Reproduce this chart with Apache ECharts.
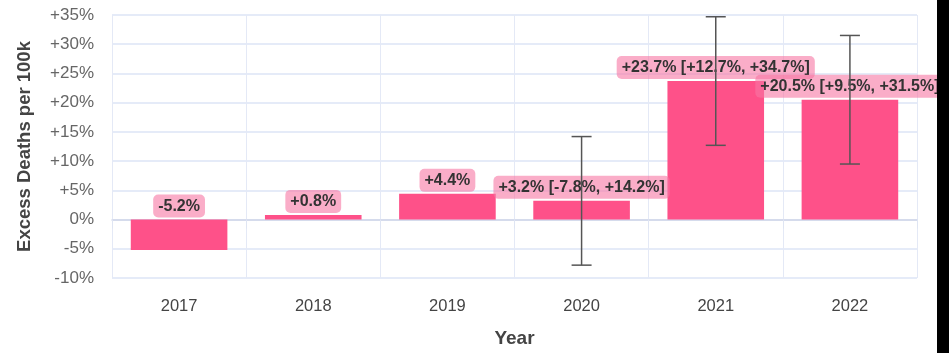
<!DOCTYPE html>
<html>
<head>
<meta charset="utf-8">
<script src="https://cdn.jsdelivr.net/npm/echarts@6/dist/echarts.min.js"></script>
<style>
  html, body { margin: 0; padding: 0; background: #000; }
  #chart { width: 937px; height: 353px; background: #fff; }
</style>
</head>
<body>
<div id="chart"></div>
<script>
// Données
const years = ['2017', '2018', '2019', '2020', '2021', '2022'];
const excess = [-5.2, 0.8, 4.4, 3.2, 23.7, 20.5];
const ciLow = [null, null, null, -7.8, 12.7, 9.5];
const ciHigh = [null, null, null, 14.2, 34.7, 31.5];
const yTicks = [-10, 35, 5]; // min, max, pas

const FONT = '"Liberation Sans", Arial, sans-serif';

function fmt(v) {
    return (v > 0 ? '+' : '') + v.toFixed(1) + '%';
}

// Barres d'erreur uniquement pour les années avec intervalle
const errorData = [];
years.forEach(function(y, i) {
    if (ciLow[i] !== null) errorData.push([i, ciLow[i], ciHigh[i]]);
});

const chart = echarts.init(document.getElementById('chart'), null, { renderer: 'canvas' });

const option = {
    animation: false,
    textStyle: { fontFamily: FONT },
    grid: { left: 112, right: 20, top: 15, bottom: 70 },
    xAxis: {
        type: 'category',
        data: years,
        name: 'Year',
        nameLocation: 'middle',
        nameGap: 51,
        nameTextStyle: { fontSize: 19, fontWeight: 'bold', color: '#444', fontFamily: FONT },
        axisLine: { lineStyle: { color: '#cfd6e8', width: 1.5 } },
        axisTick: { show: true, length: 9, lineStyle: { color: '#dfe5f3' } },
        splitLine: { show: true, lineStyle: { color: '#e4e9f6', width: 1 } },
        axisLabel: { fontSize: 16.5, color: '#444', margin: 20, fontFamily: FONT }
    },
    yAxis: {
        type: 'value',
        min: yTicks[0],
        max: yTicks[1],
        interval: yTicks[2],
        name: 'Excess Deaths per 100k',
        nameLocation: 'middle',
        nameGap: 78,
        nameTextStyle: { fontSize: 18.5, fontWeight: 'bold', color: '#444', fontFamily: FONT },
        axisLine: { show: false },
        axisTick: { show: false },
        splitLine: { lineStyle: { color: '#dde4f6', width: 1.5 } },
        axisLabel: {
            fontSize: 17,
            color: '#666',
            margin: 18,
            fontFamily: FONT,
            formatter: function(v) { return (v > 0 ? '+' : '') + v + '%'; }
        }
    },
    series: [
        {
            type: 'bar',
            data: excess,
            barWidth: '72%',
            itemStyle: { color: '#fe5189' },
            label: {
                show: true,
                position: 'top',
                distance: 2,
                fontSize: 16,
                fontWeight: 'bold',
                color: '#333',
                fontFamily: FONT,
                backgroundColor: 'rgba(246, 118, 164, 0.6)',
                borderRadius: 5,
                padding: [4, 5, 3, 5],
                formatter: function(p) {
                    const i = p.dataIndex;
                    let s = fmt(excess[i]);
                    if (ciLow[i] !== null) s += ' [' + fmt(ciLow[i]) + ', ' + fmt(ciHigh[i]) + ']';
                    return s;
                }
            }
        },
        {
            type: 'custom',
            z: 10,
            data: errorData,
            encode: { x: 0, y: [1, 2] },
            renderItem: function(params, api) {
                const x = api.value(0);
                const lo = api.coord([x, api.value(1)]);
                const hi = api.coord([x, api.value(2)]);
                const hw = 10;
                const style = { stroke: '#555', lineWidth: 1.5 };
                return {
                    type: 'group',
                    children: [
                        { type: 'line', shape: { x1: lo[0], y1: lo[1], x2: hi[0], y2: hi[1] }, style: style },
                        { type: 'line', shape: { x1: lo[0] - hw, y1: lo[1], x2: lo[0] + hw, y2: lo[1] }, style: style },
                        { type: 'line', shape: { x1: hi[0] - hw, y1: hi[1], x2: hi[0] + hw, y2: hi[1] }, style: style }
                    ]
                };
            }
        }
    ]
};

chart.setOption(option);
window.addEventListener('resize', chart.resize);
</script>
</body>
</html>
